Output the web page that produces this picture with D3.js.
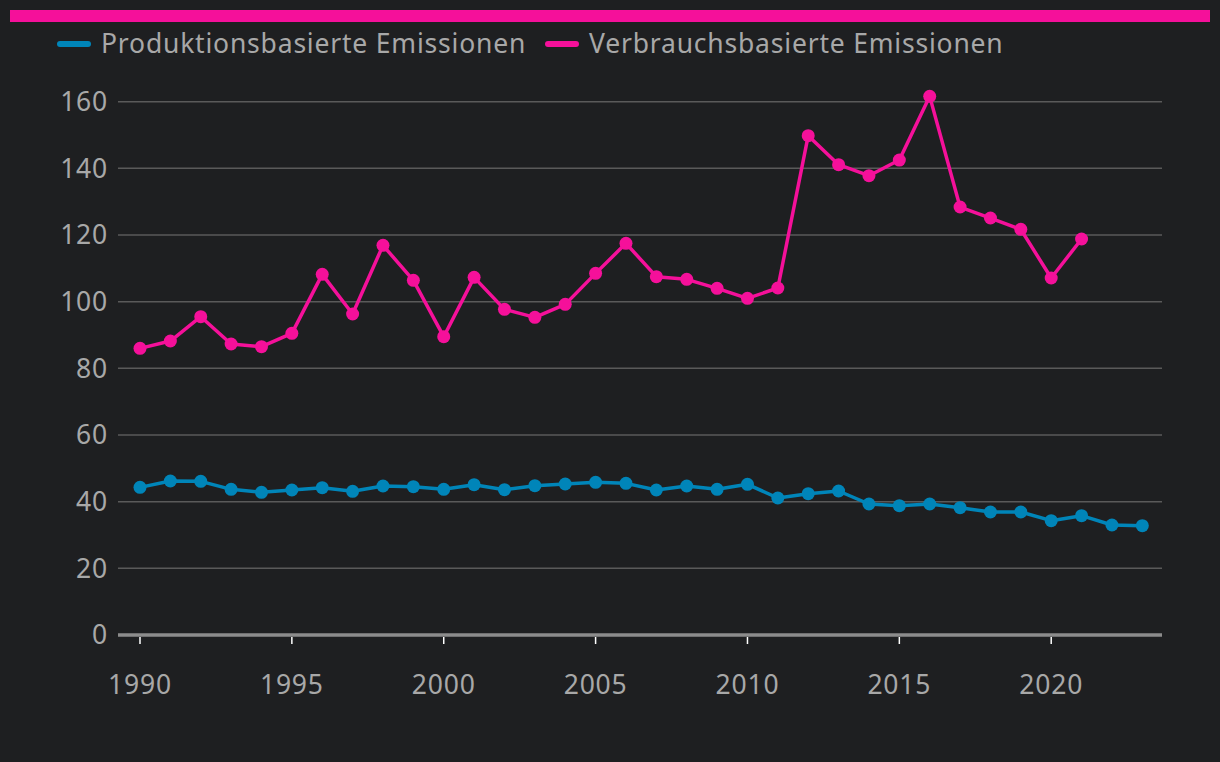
<!DOCTYPE html>
<html><head><meta charset="utf-8">
<script src="https://cdn.jsdelivr.net/npm/d3@7"></script>
<style>
html,body{margin:0;padding:0;background:#1e1f21;}
svg{display:block;}
</style></head>
<body>
<svg id="c" width="1220" height="762"></svg>
<script>
const years = d3.range(1990, 2024);
const produktion = [44.3,46.2,46.1,43.7,42.8,43.5,44.2,43.1,44.7,44.5,43.7,45.1,43.6,44.8,45.3,45.8,45.5,43.5,44.7,43.7,45.2,41.1,42.4,43.2,39.3,38.8,39.3,38.2,36.9,36.9,34.3,35.8,33.0,32.8];
const verbrauch = [86.0,88.2,95.5,87.3,86.5,90.5,108.2,96.3,116.9,106.4,89.5,107.3,97.7,95.3,99.2,108.5,117.5,107.5,106.7,104.0,101.0,104.1,149.8,141.1,137.8,142.5,161.6,128.4,125.1,121.7,107.1,118.8];
const yTicks = [0,20,40,60,80,100,120,140,160];
const xTicks = [1990,1995,2000,2005,2010,2015,2020];
const seriesNames = ["Produktionsbasierte Emissionen","Verbrauchsbasierte Emissionen"];
const colors = ["#0085b9","#f5109a"];

const svg = d3.select("#c");
const font = "'Noto Sans', sans-serif";
const textCol = "#a8a8a8";
const fs = 26.5, ls = 0.8;

svg.append("rect").attr("x",10).attr("y",10).attr("width",1200).attr("height",12).attr("fill","#f5109a");

const x = d3.scaleLinear().domain([1990,2020]).range([140,1051.2]);
const y = d3.scaleLinear().domain([0,160]).range([635,101.7]);
const left = 118, right = 1162;

svg.append("g").selectAll("line").data(yTicks.filter(d=>d>0)).join("line")
  .attr("x1",left).attr("x2",right).attr("y1",d=>y(d)).attr("y2",d=>y(d))
  .attr("stroke","#5a5a5a").attr("stroke-width",1.5);

svg.append("g").selectAll("text").data(yTicks).join("text")
  .attr("x",108).attr("y",d=>y(d)).attr("dy","0.35em").attr("text-anchor","end")
  .attr("fill",textCol).attr("font-family",font).attr("font-size",fs).attr("letter-spacing",ls).text(d=>d);

svg.append("line").attr("x1",left).attr("x2",right).attr("y1",y(0)).attr("y2",y(0))
  .attr("stroke","#8c8c8c").attr("stroke-width",3.5);
svg.append("g").selectAll("line").data(xTicks).join("line")
  .attr("x1",d=>x(d)).attr("x2",d=>x(d)).attr("y1",y(0)+2).attr("y2",y(0)+9)
  .attr("stroke","#ffffff").attr("stroke-width",1.5);
svg.append("g").selectAll("text").data(xTicks).join("text")
  .attr("x",d=>x(d)).attr("y",685).attr("dy","0.35em").attr("text-anchor","middle")
  .attr("fill",textCol).attr("font-family",font).attr("font-size",fs).attr("letter-spacing",ls).text(d=>d);

const data = [produktion, verbrauch];
const line = d3.line().x((d,i)=>x(years[i])).y(d=>y(d));
data.forEach((s,k)=>{
  svg.append("path").datum(s).attr("d",line).attr("fill","none")
    .attr("stroke",colors[k]).attr("stroke-width",3.5).attr("stroke-linejoin","round");
  svg.append("g").selectAll("circle").data(s).join("circle")
    .attr("cx",(d,i)=>x(years[i])).attr("cy",d=>y(d)).attr("r",6.5).attr("fill",colors[k]);
});

const legX = [57, 545];
seriesNames.forEach((n,k)=>{
  svg.append("line").attr("x1",legX[k]+3).attr("x2",legX[k]+31).attr("y1",44).attr("y2",44)
    .attr("stroke",colors[k]).attr("stroke-width",6).attr("stroke-linecap","round");
  svg.append("text").attr("x",legX[k]+44).attr("y",44).attr("dy","0.35em")
    .attr("fill",textCol).attr("font-family",font).attr("font-size",fs).attr("letter-spacing",ls).text(n);
});
</script>
</body></html>
